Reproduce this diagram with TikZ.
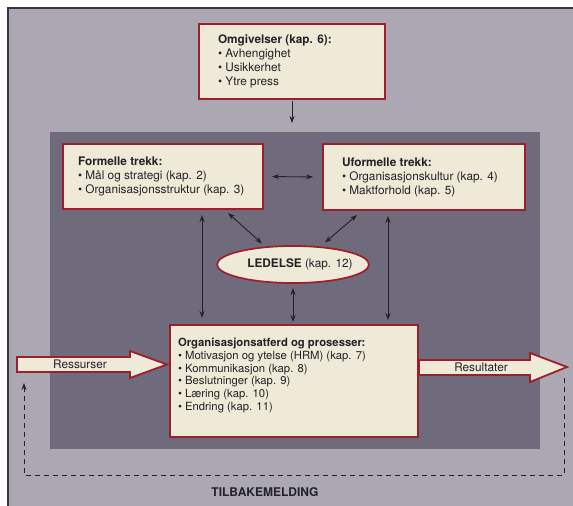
\documentclass[tikz,border=0pt]{standalone}
\usepackage{fontspec}
\setmainfont{TeX Gyre Heros}
\usetikzlibrary{arrows.meta,shapes.geometric,calc}
\definecolor{outergray}{HTML}{ABA8B4}
\definecolor{panelc}{HTML}{6F6B7C}
\definecolor{creamc}{HTML}{EFE9D8}
\definecolor{redc}{HTML}{9C1F2B}
\definecolor{inkc}{HTML}{232226}
\definecolor{framec}{HTML}{3E3338}
\begin{document}
\begin{tikzpicture}[x=1pt,y=-1pt,
  every node/.style={inner sep=0pt,outer sep=0pt},
  boxst/.style={draw=redc,fill=creamc,line width=1.7pt,rectangle,anchor=north west},
  txt/.style={align=left,text=inkc,font=\fontsize{11.8}{14}\selectfont},
  txtsm/.style={align=left,text=inkc,font=\fontsize{11.3}{12.8}\selectfont},
  dbl/.style={draw=inkc,line width=0.9pt,{Stealth[length=7pt,width=5pt]}-{Stealth[length=7pt,width=5pt]}},
  sgl/.style={draw=inkc,line width=0.9pt,-{Stealth[length=7pt,width=5pt]}},
  bigarrow/.style={draw=redc,fill=creamc,line width=1.8pt,line join=miter},
  fb/.style={draw=inkc,line width=0.8pt,dash pattern=on 5pt off 4pt,-{Stealth[length=7pt,width=5pt]}}
]
\useasboundingbox (0,0) rectangle (573,506);
\fill[white] (0,0) rectangle (573,506);
\fill[outergray] (8,8) rectangle (573,506);
\draw[framec,line width=2.5pt] (8,506) -- (8,8) -- (573,8);

% dark panel
\node[fill=panelc,minimum width=490pt,minimum height=317pt,anchor=north west] (panel) at (50,132) {};

% boxes
\node[boxst,minimum width=186pt,minimum height=75pt] (omg) at (199,24) {};
\node[txt,anchor=west] (omgt) at ([xshift=19pt]omg.west)
  {\textbf{Omgivelser (kap. 6):}\\\textbullet\ Avhengighet\\\textbullet\ Usikkerhet\\\textbullet\ Ytre press};

\node[boxst,minimum width=200pt,minimum height=65pt] (form) at (63,144) {};
\node[txt,anchor=west] (formt) at ([xshift=15pt]form.west)
  {\textbf{Formelle trekk:}\\\textbullet\ Mål og strategi (kap. 2)\\\textbullet\ Organisasjonsstruktur (kap. 3)};

\node[boxst,minimum width=202pt,minimum height=66pt] (uform) at (323,144) {};
\node[txt,anchor=west] (uformt) at ([xshift=19pt]uform.west)
  {\textbf{Uformelle trekk:}\\\textbullet\ Organisasjonskultur (kap. 4)\\\textbullet\ Maktforhold (kap. 5)};

\node[draw=redc,fill=creamc,line width=1.7pt,ellipse,minimum width=152pt,minimum height=37pt] (led) at (293,264.5) {};
\node[txt] (ledt) at ([xshift=7pt]led.center) {\textbf{LEDELSE} (kap. 12)};

\node[boxst,minimum width=248pt,minimum height=112pt] (org) at (170,325) {};
\node[txtsm,anchor=west] (orgt) at ([xshift=8pt,yshift=5.5pt]org.west)
  {\textbf{Organisasjonsatferd og prosesser:}\\\textbullet\ Motivasjon og ytelse (HRM) (kap. 7)\\\textbullet\ Kommunikasjon (kap. 8)\\\textbullet\ Beslutninger (kap. 9)\\\textbullet\ Læring (kap. 10)\\\textbullet\ Endring (kap. 11)};

% connectors
\draw[sgl,shorten <=2pt,shorten >=9pt] (omg.south) -- (omg.south |- panel.north);
\draw[dbl,shorten <=9pt,shorten >=10pt] (form.east) -- (uform.west);
\draw[dbl,shorten <=6pt,shorten >=7pt] ([xshift=39pt]form.south) -- ([xshift=39pt]form.south |- org.north);
\draw[dbl,shorten <=6pt,shorten >=5pt] ([xshift=-36pt]uform.south) -- ([xshift=-36pt]uform.south |- org.north);
\draw[dbl,shorten <=5pt,shorten >=3pt] (led.south) -- (led.south |- org.north);
\draw[dbl] ([shift={(-31pt,21pt)}]led.center) -- ([shift={(-35pt,-4pt)}]form.south east);
\draw[dbl] ([shift={(32pt,22pt)}]led.center) -- ([shift={(34pt,-5pt)}]uform.south west);

% big arrows
\path[bigarrow] (17,357) -- (130,357) -- (130,351) -- (167,364.5) -- (130,378) -- (130,372) -- (17,372) -- cycle;
\node[txt] (resst) at (80,364.5) {Ressurser};
\path[bigarrow] (419,360) -- (530,360) -- (530,353) -- (567,367) -- (530,382) -- (530,375) -- (419,375) -- cycle;
\node[txt] (resut) at (481,367) {Resultater};

% feedback
\coordinate (fbA) at (564,378);
\coordinate (fbB) at (564,475);
\coordinate (fbC) at (24,475);
\coordinate (fbD) at (24,383);
\draw[fb] (fbA) -- (fbB) -- (fbC) -- (fbD);
\node[txt,font=\bfseries\fontsize{12}{14}\selectfont] (tilb) at (265,492) {TILBAKEMELDING};
\end{tikzpicture}
\end{document}
